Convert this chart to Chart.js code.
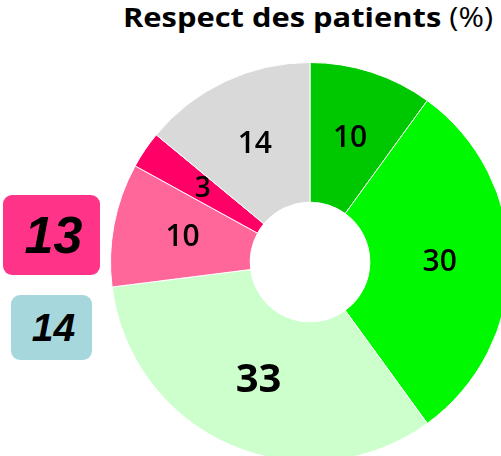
<!DOCTYPE html>
<html>
<head>
<meta charset="utf-8">
<script src="https://cdn.jsdelivr.net/npm/chart.js@4"></script>
<style>
    html, body { margin: 0; padding: 0; background: #fff; width: 501px; height: 456px; overflow: hidden; }
    #title {
        position: absolute; top: -2px; left: 123px; white-space: nowrap;
        font-family: 'Open Sans', sans-serif; font-size: 27px; line-height: 37px; color: #000;
        transform-origin: 0 0;
    }
    #title b { font-weight: 700; }
    .box {
        position: absolute; border-radius: 9px; display: flex; align-items: center; justify-content: center;
        font-family: 'Liberation Sans', Arial, sans-serif; font-weight: bold; font-style: italic; color: #000;
    }
    #box1 { left: 3px; top: 195px; width: 97px; height: 80px; background: #ff3388; font-size: 52px; padding-left: 4px; box-sizing: border-box; }
    #box2 { left: 11px; top: 295px; width: 81px; height: 65px; background: #a5d7dc; font-size: 39px; padding-left: 4px; box-sizing: border-box; }
    #wrap { position: absolute; left: 110px; top: 62px; width: 400px; height: 400px; }
</style>
</head>
<body>
<div id="title"><b>Respect des patients</b> (%)</div>
<div class="box" id="box1">13</div>
<div class="box" id="box2">14</div>
<div id="wrap"><canvas id="chart" width="400" height="400"></canvas></div>

<script>
// données (sens horaire depuis midi)
const labels = ['A', 'B', 'C', 'D', 'E', 'F'];
const values = [10, 30, 33, 10, 3, 14];
const colors = ['#00c800', '#00f800', '#ccffcc', '#ff6699', '#ff0066', '#d9d9d9'];
const labelFonts = ['600 30px', '600 30px', 'bold 40px', '600 30px', '600 28px', '600 30px'];

// ajuste la largeur du titre
const title = document.getElementById('title');
const w = title.getBoundingClientRect().width;
title.style.transform = 'scaleX(' + (370 / w) + ')';

// étiquettes au centre des secteurs
const sliceLabels = {
    id: 'sliceLabels',
    afterDatasetsDraw(chart) {
        const ctx = chart.ctx;
        const meta = chart.getDatasetMeta(0);
        ctx.save();
        ctx.textAlign = 'center';
        ctx.textBaseline = 'middle';
        ctx.fillStyle = '#000';
        meta.data.forEach((arc, i) => {
            const p = arc.tooltipPosition();
            ctx.font = labelFonts[i] + " 'Open Sans', sans-serif";
            ctx.fillText(String(values[i]), p.x, p.y);
        });
        ctx.restore();
    }
};

new Chart(document.getElementById('chart'), {
    type: 'doughnut',
    data: {
        labels: labels,
        datasets: [{
            data: values,
            backgroundColor: colors,
            borderColor: '#ffffff',
            borderWidth: 1
        }]
    },
    options: {
        responsive: false,
        animation: false,
        cutout: '30%',
        layout: { padding: 0 },
        plugins: {
            legend: { display: false },
            tooltip: { enabled: false },
            title: { display: false }
        }
    },
    plugins: [sliceLabels]
});
</script>
</body>
</html>
